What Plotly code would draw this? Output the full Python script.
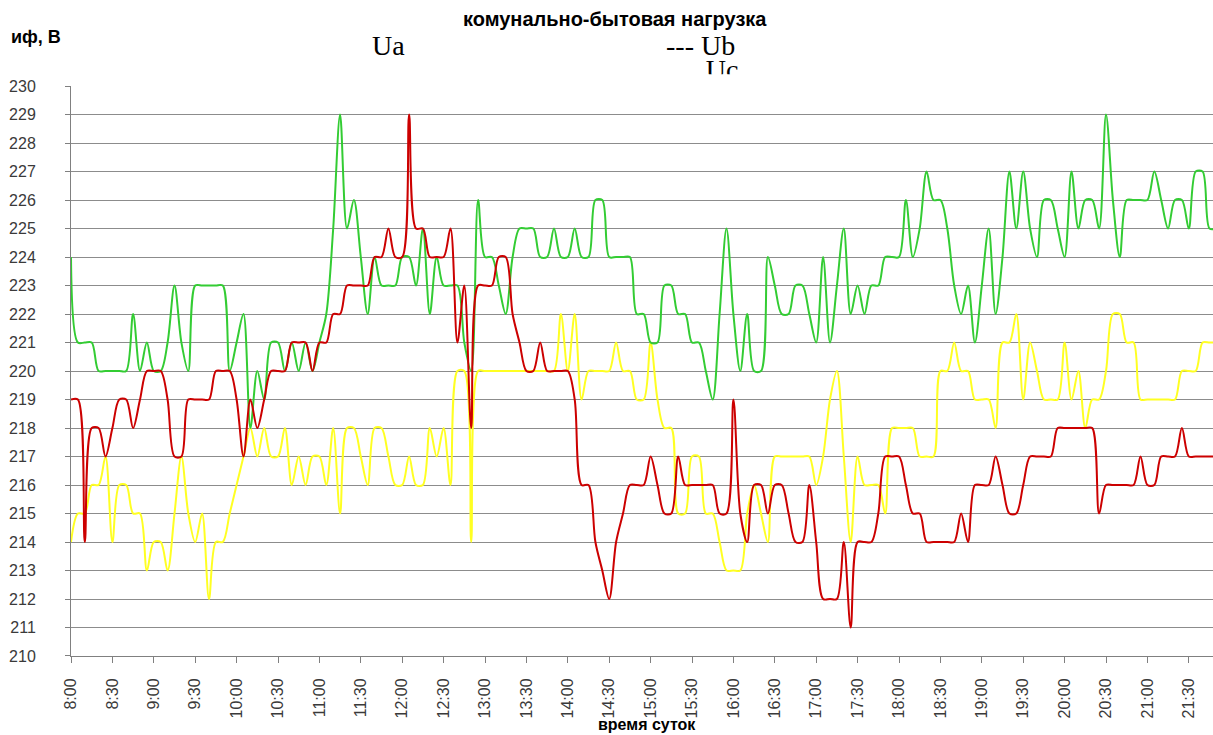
import plotly.graph_objects as go

# Half-hour labels along the time axis (one category every 5 minutes)
time_labels = ["8:00", "8:30", "9:00", "9:30", "10:00", "10:30", "11:00", "11:30",
               "12:00", "12:30", "13:00", "13:30", "14:00", "14:30", "15:00", "15:30",
               "16:00", "16:30", "17:00", "17:30", "18:00", "18:30", "19:00", "19:30",
               "20:00", "20:30", "21:00", "21:30"]

# Phase voltages, V (5-minute samples from 8:00)
ua = [214, 215, 215, 216, 216, 217, 214, 216, 216, 215, 215, 213, 214, 214, 213, 215,
      217, 215, 214, 215, 212, 214, 214, 215, 216, 217, 218, 217, 218, 217, 217, 218,
      216, 217, 216, 217, 217, 216, 218, 215, 218, 218, 217, 216, 218, 218, 217, 216,
      216, 217, 216, 216, 218, 217, 218, 216, 220, 220, 214, 220, 220, 220, 220, 220,
      220, 220, 220, 220, 220, 220, 220, 222, 220, 222, 219, 220, 220, 220, 220, 221,
      220, 220, 219, 219, 221, 219, 218, 218, 215, 215, 217, 217, 215, 215, 214, 213,
      213, 213, 215, 216, 215, 214, 217, 217, 217, 217, 217, 217, 216, 217, 219, 220,
      217, 214, 217, 216, 216, 216, 215, 218, 218, 218, 218, 217, 217, 217, 220, 220,
      221, 220, 220, 219, 219, 219, 218, 221, 221, 222, 219, 221, 220, 219, 219, 219,
      221, 219, 220, 218, 219, 219, 220, 222, 222, 221, 221, 219, 219, 219, 219, 219,
      219, 220, 220, 220, 221, 221, 221]

ub = [224, 221, 221, 221, 220, 220, 220, 220, 220, 222, 220, 221, 220, 220, 221, 223,
      221, 220, 223, 223, 223, 223, 223, 220, 221, 222, 218, 220, 219, 221, 221, 220,
      221, 220, 221, 220, 221, 222, 225, 229, 225, 226, 224, 222, 224, 223, 223, 223,
      224, 224, 223, 225, 222, 224, 223, 223, 223, 221, 220, 226, 224, 224, 223, 222,
      224, 225, 225, 225, 224, 224, 225, 224, 224, 225, 224, 224, 226, 226, 224, 224,
      224, 224, 222, 222, 221, 221, 223, 223, 222, 222, 221, 221, 220, 219, 222, 225,
      222, 220, 222, 220, 220, 224, 223, 222, 222, 223, 223, 222, 221, 224, 221, 223,
      225, 222, 223, 222, 223, 223, 224, 224, 224, 226, 224, 225, 227, 226, 226, 225,
      223, 222, 223, 221, 223, 225, 222, 224, 227, 225, 227, 225, 224, 226, 226, 225,
      224, 227, 225, 226, 226, 225, 229, 226, 224, 226, 226, 226, 226, 227, 226, 225,
      226, 226, 225, 227, 227, 225, 225]

uc = [219, 219, 214, 218, 218, 217, 218, 219, 219, 218, 219, 220, 220, 220, 219, 217,
      217, 219, 219, 219, 219, 220, 220, 220, 219, 217, 219, 218, 219, 220, 220, 220,
      221, 221, 221, 220, 221, 221, 222, 222, 223, 223, 223, 223, 224, 224, 225, 224,
      224, 229, 225, 225, 224, 224, 224, 225, 221, 223, 218, 223, 223, 223, 224, 224,
      222, 221, 220, 220, 221, 220, 220, 220, 220, 219, 216, 216, 214, 213, 212, 214,
      215, 216, 216, 216, 217, 216, 215, 215, 217, 216, 216, 216, 216, 216, 215, 215,
      219, 215, 214, 216, 216, 215, 216, 216, 215, 214, 214, 216, 214, 212, 212, 212,
      214, 211, 214, 214, 214, 215, 217, 217, 217, 216, 215, 215, 214, 214, 214, 214,
      214, 215, 214, 216, 216, 216, 217, 216, 215, 215, 216, 217, 217, 217, 217, 218,
      218, 218, 218, 218, 218, 215, 216, 216, 216, 216, 216, 217, 216, 216, 217, 217,
      217, 218, 217, 217, 217, 217, 217]

W, H = 1213, 735
ML, MR, MT, MB = 71, 0, 0, 79
PW, PH = W - ML - MR, H - MT - MB
PLOT_TOP = 79


def fx(p):
    """pixel column -> paper x"""
    return (p - ML) / PW


def fy(p):
    """pixel row -> paper y"""
    return (H - MB - p) / PH


AX_COLOR = "#808080"
SANS = "Liberation Sans, Arial"
SERIF = "Liberation Serif, Times New Roman"
LABEL_FONT = dict(family=SANS, size=16, color="#3a3a3a")

fig = go.Figure()

idx = list(range(len(ub)))
for vals, color in ((ua, "#ffff22"), (ub, "#33cc33"), (uc, "#cc0000")):
    fig.add_trace(go.Scatter(
        x=idx, y=vals, mode="lines",
        line=dict(color=color, width=2, shape="spline", smoothing=0.9),
        showlegend=False, hoverinfo="skip"))

# third legend entry, its lower half hidden by the frame above the grid
fig.add_trace(go.Scatter(
    x=[0], y=[-0.83], mode="text", text=["Uc"],
    textposition="middle center",
    textfont=dict(family=SERIF, size=28, color="#000000"),
    xaxis="x2", yaxis="y2", cliponaxis=True,
    showlegend=False, hoverinfo="skip"))


def label(text, x, y, size, family=SANS):
    return dict(text=text, x=fx(x), y=fy(y), xref="paper", yref="paper",
                xanchor="center", yanchor="middle", showarrow=False,
                font=dict(family=family, size=size, color="#000000"))


fig.update_layout(
    width=W, height=H,
    margin=dict(l=ML, r=MR, t=MT, b=MB),
    paper_bgcolor="white", plot_bgcolor="white",
    xaxis=dict(
        range=[0, (W - ML) / 6.9],
        tickvals=list(range(0, 6 * len(time_labels), 6)),
        ticktext=time_labels,
        tickangle=-90,
        ticks="outside", ticklen=6, tickcolor=AX_COLOR,
        tickfont=LABEL_FONT, ticklabelstandoff=9,
        showgrid=False, zeroline=False,
        showline=True, linecolor=AX_COLOR, linewidth=1,
    ),
    yaxis=dict(
        domain=[0, fy(PLOT_TOP)],
        range=[210, 230], dtick=1,
        ticks="outside", ticklen=5, tickcolor=AX_COLOR,
        tickfont=LABEL_FONT, ticklabelstandoff=26,
        showgrid=True, gridcolor="#8c8c8c", gridwidth=1,
        zeroline=False,
        showline=True, linecolor=AX_COLOR, linewidth=1,
    ),
    xaxis2=dict(domain=[fx(697), fx(747)], range=[-1, 1], anchor="y2", visible=False),
    yaxis2=dict(domain=[fy(67), fy(40)], range=[-1, 1], anchor="x2", visible=False),
    annotations=[
        label("<b>комунально-бытовая нагрузка</b>", 615, 11, 20),
        label("<b>иф, В</b>", 36, 29, 18),
        label("Ua", 388, 38, 28, SERIF),
        label("--- Ub", 700, 38, 28, SERIF),
        label("<b>время суток</b>", 647, 725, 16),
    ],
)

fig.write_html("out.html")
